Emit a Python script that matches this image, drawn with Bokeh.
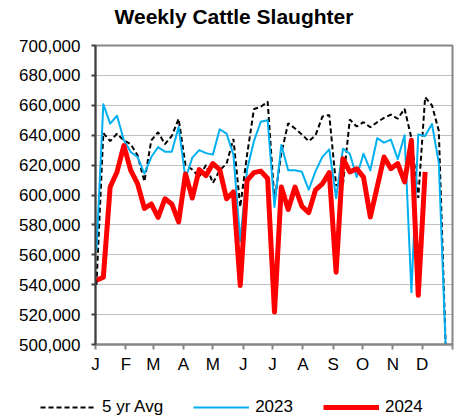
from bokeh.plotting import figure
from bokeh.layouts import column
from bokeh.models import (Range1d, FixedTicker, NumeralTickFormatter, Legend,
                          LegendItem, Label, ColumnDataSource, Plot)
from bokeh.embed import file_html
from bokeh.resources import INLINE

# ---------------- data ----------------
weeks = list(range(1, 53))
avg5 = [540000, 641500, 636000, 641000, 636500, 634000, 626500, 609000, 636500, 642000,
        634000, 639500, 651000, 620000, 617000, 612000, 620000, 608000, 616500, 621000,
        637500, 592000, 627000, 657500, 659000, 662500, 596000, 628000, 648000, 644500,
        640500, 636000, 640000, 652500, 653500, 606500, 607000, 650500, 645800, 648700,
        645300, 648700, 651600, 653800, 651000, 657700, 638000, 598000, 665400, 660000,
        643000, 499000]
y2023 = [563000, 660700, 647700, 653000, 636600, 628800, 625400, 614300, 625400, 632000,
         629000, 629000, 645500, 611000, 625000, 630000, 628000, 627000, 644000, 641000,
         627000, 569000, 617000, 636000, 649000, 650000, 592000, 633500, 616500, 616500,
         615500, 603500, 616000, 625500, 630500, 598000, 631000, 627600, 612000, 627600,
         616500, 638000, 635000, 637000, 624000, 640000, 535000, 640500, 639500, 647500,
         621500, 499000]
y2024 = [543000, 545000, 605400, 615400, 633000, 616500, 607600, 591000, 594000, 585000,
         597500, 594000, 582000, 614000, 598000, 617000, 613000, 621000, 617000, 597500,
         602000, 539500, 609800, 615000, 616000, 611000, 521700, 605300, 590300, 605300,
         592500, 588200, 603500, 607500, 615000, 548400, 624300, 615400, 617600, 612000,
         585300, 605400, 625400, 617600, 621000, 608700, 636600, 532900, 615400]

month_labels = ["J", "F", "M", "A", "M", "J", "J", "A", "S", "O", "N", "D", ""]
month_start_day = [0, 31, 59, 90, 120, 151, 181, 212, 243, 273, 304, 334, 365]
y_ticks = list(range(500000, 700001, 20000))

series_names = ["5 yr Avg", "2023", "2024"]
title_text = "Weekly Cattle Slaughter"


# week number -> day of year position on the date-like axis
def week_day(w):
    return 7 * (w - 1) + 1


FONT = "Liberation Sans"
W = 468
FRAME_LEFT = 95
HAS_FA = hasattr(Plot, "frame_align")
# strips have their own full-width frame when frame alignment can be switched off
STRIP_LEFT = 0 if HAS_FA else FRAME_LEFT
extra = dict(frame_align=False) if HAS_FA else {}

styles = [dict(line_color="black", line_width=2, line_dash="5 3"),
          dict(line_color="#00B0F0", line_width=2, line_join="round"),
          dict(line_color="#FF0000", line_width=5, line_join="round")]


def bare_fig(h):
    f = figure(width=W, height=h, output_backend="svg", toolbar_location=None,
               x_range=Range1d(0, 1), y_range=Range1d(0, 1),
               x_axis_location=None, y_axis_location=None,
               min_border_left=0, min_border_right=0, min_border_top=0,
               min_border_bottom=0, tools="", **extra)
    f.grid.visible = False
    f.outline_line_color = None
    f.background_fill_color = "white"
    f.border_fill_color = "white"
    return f


# ---------------- title strip ----------------
TH = 28
pt = bare_fig(TH)
pt.add_layout(Label(x=233.5 - STRIP_LEFT, y=TH - 16, x_units="screen", y_units="screen",
                    text=title_text, text_align="center", text_baseline="alphabetic",
                    text_font=FONT, text_font_style="bold", text_font_size="21px",
                    text_color="black"))

# ---------------- main chart ----------------
MH = 390 - TH
p = figure(width=W, height=MH, output_backend="svg", toolbar_location=None,
           x_range=Range1d(0, 365), y_range=Range1d(500000, 700000),
           min_border_left=FRAME_LEFT, min_border_right=16, min_border_top=45 - TH,
           min_border_bottom=MH - (344 - TH), tools="", **extra)
p.background_fill_color = "white"
p.border_fill_color = "white"
p.outline_line_color = "#868686"
p.outline_line_width = 2

series = [avg5, y2023, y2024]
for vals, st in zip(series, styles):
    src = ColumnDataSource(dict(x=[week_day(w) for w in weeks[:len(vals)]], y=vals))
    p.line("x", "y", source=src, **st)

p.xaxis.ticker = FixedTicker(ticks=month_start_day)
p.xaxis.major_label_overrides = {d: l for d, l in zip(month_start_day, month_labels)}
p.xaxis.axis_line_color = "#868686"
p.xaxis.axis_line_width = 2
p.xaxis.major_tick_line_color = "#868686"
p.xaxis.major_tick_line_width = 2
p.xaxis.major_tick_out = 5
p.xaxis.major_tick_in = 0
p.xaxis.minor_tick_line_color = None
p.xaxis.major_label_standoff = 5
p.xaxis.major_label_text_font = FONT
p.xaxis.major_label_text_font_size = "17px"
p.xaxis.major_label_text_color = "black"

p.yaxis.ticker = FixedTicker(ticks=y_ticks)
p.yaxis.formatter = NumeralTickFormatter(format="0,0")
p.yaxis.axis_line_color = "#404040"
p.yaxis.axis_line_width = 2
p.yaxis.major_tick_line_color = "#404040"
p.yaxis.major_tick_line_width = 2
p.yaxis.major_tick_out = 4
p.yaxis.major_tick_in = 0
p.yaxis.minor_tick_line_color = None
p.yaxis.major_label_standoff = 11
p.yaxis.major_label_text_font = FONT
p.yaxis.major_label_text_font_size = "17px"
p.yaxis.major_label_text_color = "black"

p.xgrid.visible = False
p.ygrid.ticker = FixedTicker(ticks=y_ticks)
p.ygrid.grid_line_color = "#808080"
p.ygrid.grid_line_dash = "1 1"
p.ygrid.grid_line_width = 1

# ---------------- legend strip ----------------
LH = 417 - TH - MH
pl = bare_fig(LH)
items = []
for name, st in zip(series_names, styles):
    # proxy renderer (one undefined point) that only supplies the legend swatch
    r = pl.line(x=[0.5], y=[float("nan")], **st)
    items.append(LegendItem(label=name, renderers=[r]))
pl.add_layout(Legend(items=items, orientation="horizontal",
                     location=(40 - STRIP_LEFT, 0),
                     padding=0, margin=0, spacing=30, glyph_width=56,
                     glyph_height=20, label_height=20, label_standoff=6,
                     label_text_font=FONT, label_text_font_size="17px",
                     label_text_color="black", border_line_alpha=0,
                     background_fill_alpha=0))

layout = column(pt, p, pl, spacing=0)
open("out.html", "w").write(file_html(layout, INLINE))
